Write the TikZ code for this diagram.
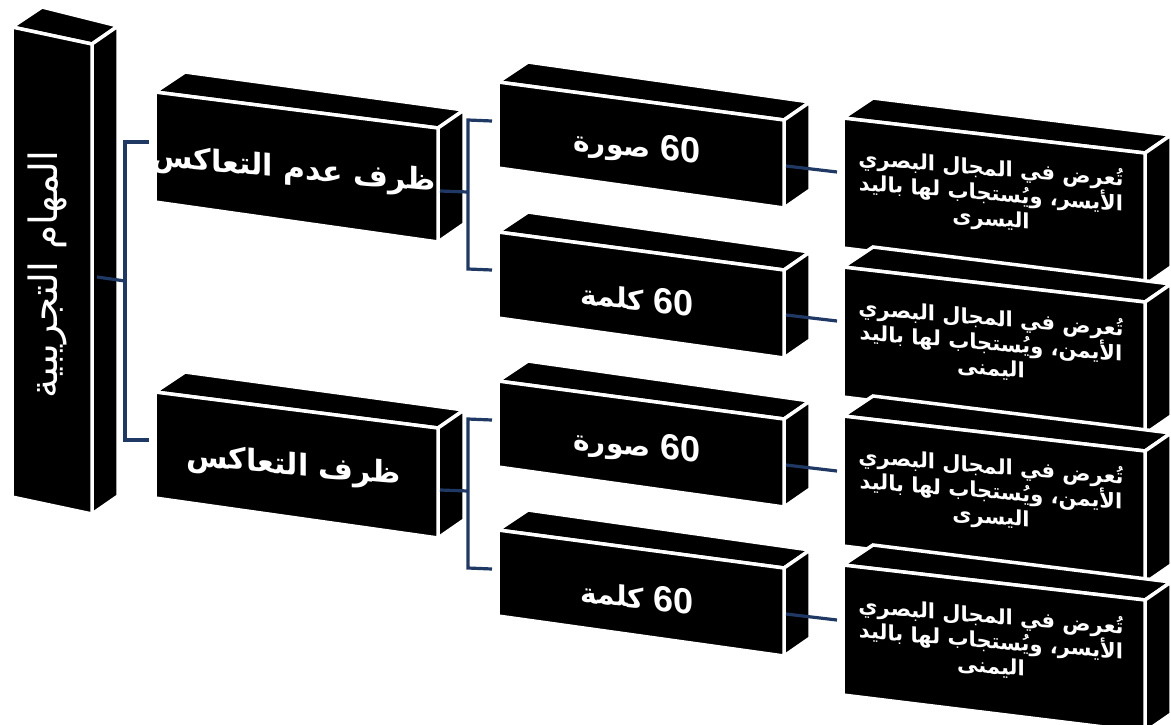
\documentclass[tikz,border=0pt]{standalone}
\usepackage{fontspec}
\usetikzlibrary{calc}
\TeXXeTstate=1
\newfontfamily\arabfont[Script=Arabic]{DejaVu Sans}
\newfontfamily\digitfont{Liberation Sans}
\definecolor{linkblue}{RGB}{31,56,100}

\tikzset{
  face/.style={fill=black, draw=white, line width=3.5pt, line join=miter},
  conn/.style={draw=linkblue, line width=3.2pt, line join=miter},
  lbl/.style={text=white, inner sep=0pt, align=center},
  headtext/.style={lbl, font=\arabfont\fontsize{39}{44}\selectfont},
  condtext/.style={lbl, font=\arabfont\bfseries\fontsize{30}{36}\selectfont, yslant=-0.09},
  counttext/.style={lbl, font=\arabfont\bfseries\fontsize{28}{32}\selectfont, yslant=-0.11},
  fieldtext/.style={lbl, font=\arabfont\bfseries\fontsize{21}{25}\selectfont, yslant=-0.08},
}

% \slab{name}{x}{y}{width}{drop of right edge}{left height}{right height}
% draws a black slab: top face, side face, then the front face
\newcommand{\slab}[7]{%
  \coordinate (#1-tl) at (#2,#3);
  \coordinate (#1-tr) at (#2+#4,#3+#5);
  \coordinate (#1-br) at (#2+#4,#3+#5+#7);
  \coordinate (#1-bl) at (#2,#3+#6);
  \filldraw[face] (#1-tl) -- ($(#1-tl)+(30,-20)$) -- ($(#1-tr)+(26,-18)$) -- (#1-tr) -- cycle;
  \filldraw[face] (#1-tr) -- ($(#1-tr)+(26,-18)$) -- ($(#1-br)+(26,-18)$) -- (#1-br) -- cycle;
  \filldraw[face] (#1-tl) -- (#1-tr) -- (#1-br) -- (#1-bl) -- cycle;
  \coordinate (#1-c) at ($(#1-tl)!0.5!(#1-br)$);
}

\newcommand{\sixty}{\beginL{\digitfont\bfseries\fontsize{36}{40}\selectfont 60}\endL}

\begin{document}
\begin{tikzpicture}[x=1pt,y=-1pt]
\useasboundingbox (0,0) rectangle (1171,724);
\clip (0,0) rectangle (1171,724);
\fill[white] (0,0) rectangle (1171,724);

% root column
\slab{R}{12}{27}{80}{17}{470}{470}
\node[headtext, rotate=90] (R) at ($(R-c)+(-5,4)$) {\beginR المهام التجريبية\endR};

% conditions
\slab{A}{155}{92}{283}{36}{110}{114}
\node[condtext] (A) at ($(A-c)+(-3,4)$) {\beginR ظرف عدم التعاكس\endR};
\slab{B}{155}{392}{283}{36}{106}{110}
\node[condtext] (B) at ($(B-c)+(-3,2)$) {\beginR ظرف التعاكس\endR};

% stimulus counts
\slab{P1}{498}{82}{286}{38}{86}{88}
\node[counttext] (P1) at ($(P1-c)+(-4,3)$) {\beginR\sixty\ صورة\endR};
\slab{P2}{498}{232}{286}{38}{86}{88}
\node[counttext] (P2) at ($(P2-c)+(-4,3)$) {\beginR\sixty\ كلمة\endR};
\slab{P3}{498}{381}{286}{38}{86}{88}
\node[counttext] (P3) at ($(P3-c)+(-4,3)$) {\beginR\sixty\ صورة\endR};
\slab{P4}{498}{530}{286}{38}{86}{88}
\node[counttext] (P4) at ($(P4-c)+(-4,3)$) {\beginR\sixty\ كلمة\endR};

% presentation fields
\slab{Q1}{843}{118}{302}{35}{130}{132}
\node[fieldtext] (Q1) at ($(Q1-c)+(-3,-7)$) {\beginR تُعرض في المجال البصري\endR\\\beginR الأيسر، ويُستجاب لها باليد\endR\\\beginR اليسرى\endR};
\slab{Q2}{843}{267}{302}{35}{130}{132}
\node[fieldtext] (Q2) at ($(Q2-c)+(-3,-7)$) {\beginR تُعرض في المجال البصري\endR\\\beginR الأيمن، ويُستجاب لها باليد\endR\\\beginR اليمنى\endR};
\slab{Q3}{843}{416}{302}{35}{130}{132}
\node[fieldtext] (Q3) at ($(Q3-c)+(-3,-7)$) {\beginR تُعرض في المجال البصري\endR\\\beginR الأيمن، ويُستجاب لها باليد\endR\\\beginR اليسرى\endR};
\slab{Q4}{843}{565}{302}{35}{130}{132}
\node[fieldtext] (Q4) at ($(Q4-c)+(-3,-7)$) {\beginR تُعرض في المجال البصري\endR\\\beginR الأيسر، ويُستجاب لها باليد\endR\\\beginR اليمنى\endR};

% connector end points
\coordinate (R-out) at (97,277);
\coordinate (trunkMid) at (125,281);
\coordinate (trunkTop) at (125,142);
\coordinate (trunkBot) at (125,440);
\coordinate (A-in) at (149,142);
\coordinate (B-in) at (149,440);
\coordinate (A-out) at (440,191);
\coordinate (jA) at (468,192);
\coordinate (jAtop) at (468,120);
\coordinate (jAbot) at (468,269);
\coordinate (P1-in) at (492,121);
\coordinate (P2-in) at (492,270);
\coordinate (B-out) at (440,490);
\coordinate (jB) at (468,491);
\coordinate (jBtop) at (468,419);
\coordinate (jBbot) at (468,568);
\coordinate (P3-in) at (492,420);
\coordinate (P4-in) at (492,569);
\foreach \i/\y in {1/166,2/315,3/465,4/614}{
  \coordinate (P\i-out) at (786,\y);
  \coordinate (Q\i-in) at (837,\y+6);
}

% connectors
\draw[conn] (R-out) -- (trunkMid);
\draw[conn] (A-in) -- (trunkTop) -- (trunkBot) -- (B-in);
\draw[conn] (A-out) -- (jA);
\draw[conn] (P1-in) -- (jAtop) -- (jAbot) -- (P2-in);
\draw[conn] (B-out) -- (jB);
\draw[conn] (P3-in) -- (jBtop) -- (jBbot) -- (P4-in);
\foreach \i in {1,...,4}{
  \draw[conn] (P\i-out) -- (Q\i-in);
}
\end{tikzpicture}
\end{document}
